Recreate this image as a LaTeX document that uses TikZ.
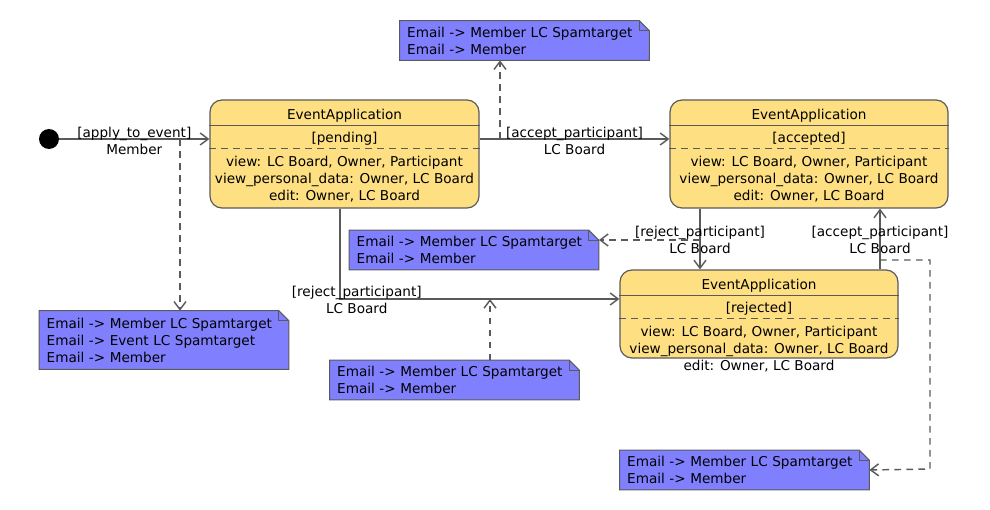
\documentclass[tikz,border=0pt]{standalone}
\usepackage{fontspec}
\setmainfont{DejaVu Sans}
\usetikzlibrary{arrows.meta,backgrounds}
\definecolor{statefill}{HTML}{FEE082}
\definecolor{notefill}{HTML}{8080FF}
\definecolor{linegray}{HTML}{5A5A5A}
\begin{document}
\begin{tikzpicture}[x=0.75pt,y=-0.75pt,
  every node/.style={font=\fontsize{10.2pt}{12.75pt}\selectfont,inner sep=0pt},
  >={Straight Barb[length=6pt,width=9pt]},
  state/.style={draw=linegray,line width=0.9pt,fill=statefill,rounded corners=9pt,minimum height=81pt},
  note/.style={align=left,text width=176pt,minimum height=29.25pt,inner xsep=5.5pt},
  lbl/.style={align=center},
  conn/.style={draw=linegray,line width=1.1pt},
  dep/.style={conn,dash pattern=on 5pt off 4pt}]
\useasboundingbox (0,0) rectangle (990,510);
% states
\node[circle,fill=black,minimum size=15pt] (init) at (49,139) {};
\node[state,minimum width=201.75pt] (pend) at (344.5,154) {};
\node[state,minimum width=208.5pt] (acc) at (809,154) {};
\node[state,minimum width=208.5pt,minimum height=66pt] (rej) at (759,314) {};
\foreach \s/\t in {pend/pending,acc/accepted,rej/rejected}{
  \node (\s-name) at ([shift={(0,16.5)}]\s.north) {EventApplication};
  \node (\s-st) at ([shift={(0,39.5)}]\s.north) {[\t]};
  \node[align=center] (\s-body) at ([shift={(0,79.5)}]\s.north) {view: LC Board, Owner, Participant\\view\_personal\_data: Owner, LC Board\\edit: Owner, LC Board};
  \draw[conn,line width=0.9pt] ([shift={(0,26)}]\s.north west) -- ([shift={(0,26)}]\s.north east);
  \draw[dep,line width=0.9pt] ([shift={(0,49)}]\s.north west) -- ([shift={(0,49)}]\s.north east);
}
% notes
\node[note,yshift=-0.75pt] (nTop) at (524.5,39.5) {Email -> Member LC Spamtarget\\Email -> Member};
\node[note,yshift=-0.75pt,minimum height=43.5pt] (nLeft) at (164,339) {Email -> Member LC Spamtarget\\Email -> Event LC Spamtarget\\Email -> Member};
\node[note,yshift=-0.75pt] (nMid) at (474,249) {Email -> Member LC Spamtarget\\Email -> Member};
\node[note,yshift=-0.75pt] (nLow) at (454.5,379) {Email -> Member LC Spamtarget\\Email -> Member};
\node[note,yshift=-0.75pt] (nRight) at (744.5,469) {Email -> Member LC Spamtarget\\Email -> Member};
\begin{scope}[on background layer]
\foreach \n in {nTop,nLeft,nMid,nLow,nRight}{
  \filldraw[fill=notefill,draw=linegray,line width=0.75pt] (\n.north west) -- ([xshift=-7.5pt]\n.north east) -- ([yshift=-7.5pt]\n.north east) -- (\n.south east) -- (\n.south west) -- cycle;
  \draw[linegray,line width=0.75pt] ([xshift=-7.5pt]\n.north east) |- ([yshift=-7.5pt]\n.north east);
}
\end{scope}
% transitions
\coordinate (a0) at (180,139);
\coordinate (a1) at (500,139);
\coordinate (a2) at (340,299);
\coordinate (a3) at (490,299);
\coordinate (a4) at (700,240);
\coordinate (a5) at (880,260);
\coordinate (a6) at (930,469);
\draw[conn,->] (init) -- node[lbl,yshift=-1.5pt]{[apply\_to\_event]\\Member} (init -| pend.west);
\draw[conn,->] (init -| pend.east) -- node[lbl,yshift=-1.5pt]{[accept\_participant]\\LC Board} (init -| acc.west);
\draw[conn,->] (pend.south -| a2) -- (a2) -- node[lbl,pos=0.06,yshift=-0.75pt]{[reject\_participant]\\LC Board} (a2 -| rej.west);
\draw[conn,->] (acc.south -| a4) -- node[lbl,yshift=-1pt]{[reject\_participant]\\LC Board} (rej.north -| a4);
\draw[conn,->] (rej.north -| a5) -- node[lbl,yshift=-1pt]{[accept\_participant]\\LC Board} (acc.south -| a5);
% note links
\draw[dep,->] (a0) -- (a0 |- nLeft.north);
\draw[dep,->] (a1) -- (a1 |- nTop.south);
\draw[dep,->] (a3 |- nLow.north) -- (a3);
\draw[dep,->] (a4) -- (a4 -| nMid.east);
\draw[dep,->] (a5) -| (a6) -- (nRight.east);
\end{tikzpicture}
\end{document}
